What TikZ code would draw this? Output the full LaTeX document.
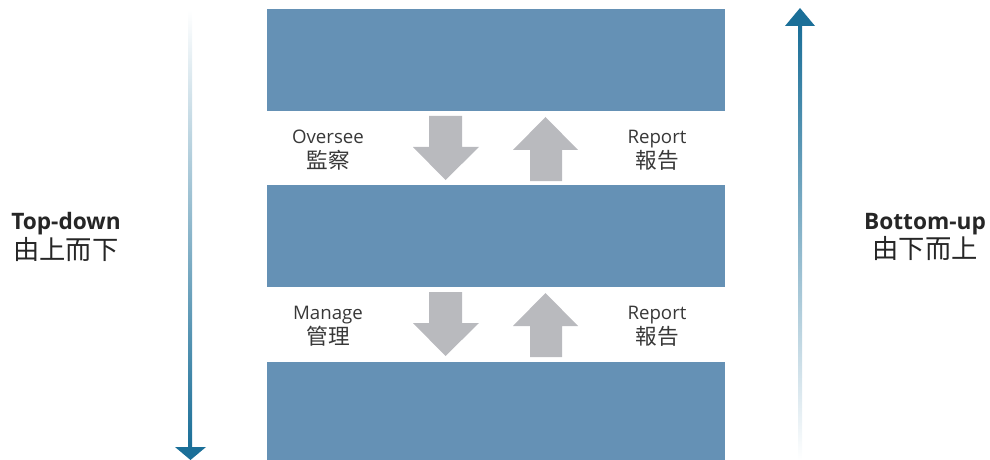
\documentclass[tikz,border=0pt]{standalone}
\usepackage{fontspec}
\setmainfont{Open Sans}
\newfontfamily\cjk[Scale=1.16]{Noto Sans CJK TC}
\definecolor{blockblue}{HTML}{6591B5}
\definecolor{arrowgray}{HTML}{B9BABE}
\definecolor{flowteal}{HTML}{1B6F98}
\tikzset{
  lab/.style={align=center,inner sep=0pt,text=black!78,font=\fontsize{14}{19}\selectfont},
  side/.style={align=center,inner sep=0pt,text=black!85,font=\fontsize{17}{22}\selectfont\bfseries}
}

\begin{document}
\begin{tikzpicture}[x=0.75pt,y=-0.75pt]
		\useasboundingbox (0,0)rectangle(990,460);
		% three levels
		\foreach \t/\b in{9/111,185/287,362/460}{
			\fill[blockblue] (267,\t)rectangle(725,\b);
		}
		% block arrows between levels
		\foreach \t in{116,292}{
			\fill[arrowgray] (429,\t)--(462,\t)--(462,\t+31)--(479,\t+31)--(445.5,\t+64)--(413,\t+31)--(429,\t+31)--cycle;
			\fill[arrowgray] (545.5,\t+1)--(578,\t+34)--(562,\t+34)--(562,\t+65)--(530,\t+65)--(530,\t+34)--(513,\t+34)--cycle;
		}
		\node (oversee) at(328,150)[lab]{Oversee\\{\cjk 監察}};
		\node (report1) at(657,150)[lab]{Report\\{\cjk 報告}};
		\node (manage) at(328,326)[lab]{Manage\\{\cjk 管理}};
		\node (report2) at(657,326)[lab]{Report\\{\cjk 報告}};
		% side arrows
		\shade[top color=white,bottom color=flowteal] (188,10)rectangle(192,448);
		\fill[flowteal] (175,447)--(206,447)--(190.5,460)--cycle;
		\shade[top color=flowteal,bottom color=white] (798,26)rectangle(802,460);
		\fill[flowteal] (785,26)--(815,26)--(800,8)--cycle;
		\node (topdown) at(66,237)[side]{Top-down\\{\mdseries\cjk 由上而下}};
		\node (bottomup) at(925,237)[side]{Bottom-up\\{\mdseries\cjk 由下而上}};
	\end{tikzpicture}
\end{document}
